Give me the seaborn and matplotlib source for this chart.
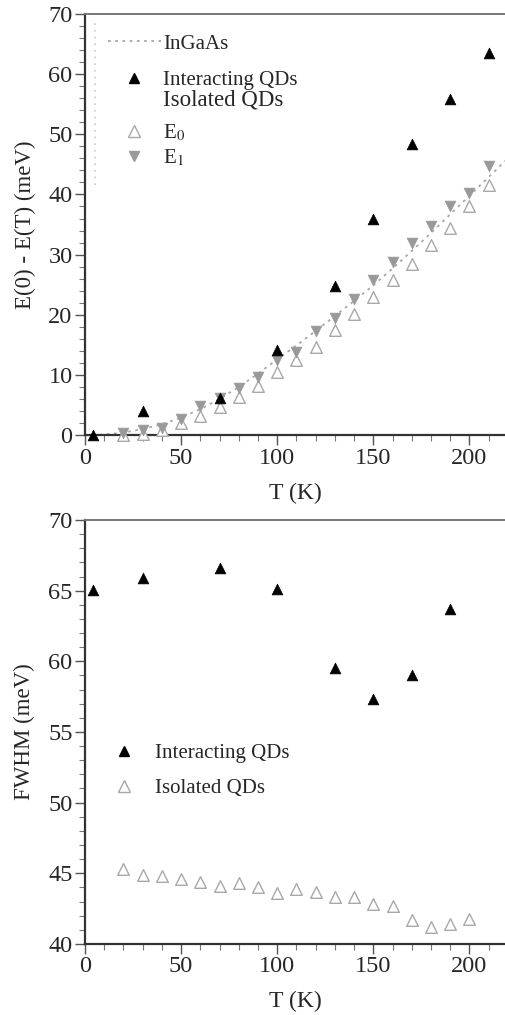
import matplotlib.pyplot as plt
import seaborn as sns
from matplotlib.lines import Line2D
from matplotlib.ticker import MultipleLocator

# top panel: E(0) - E(T)
t_inter = [4, 30, 70, 100, 130, 150, 170, 190, 210]
shift_inter = [0.0, 4.0, 6.2, 14.1, 24.8, 35.9, 48.4, 55.9, 63.6]

t_iso = [20, 30, 40, 50, 60, 70, 80, 90, 100, 110, 120, 130, 140, 150, 160, 170, 180, 190, 200, 210]
shift_e0 = [0.0, 0.2, 0.8, 2.0, 3.1, 4.6, 6.4, 8.2, 10.5, 12.4, 14.7, 17.5, 20.2, 23.0, 25.8, 28.5, 31.6, 34.5, 38.1, 41.6]
shift_e1 = [0.3, 0.8, 1.2, 2.65, 4.8, 6.2, 7.8, 9.7, 12.4, 13.8, 17.3, 19.5, 22.6, 25.8, 28.8, 32.0, 34.8, 38.1, 40.2, 44.8]

t_ingaas = [0, 10, 20, 30, 40, 50, 60, 70, 80, 90, 100, 110, 120, 130, 140, 150, 160, 170, 180, 190, 200, 210, 220]
shift_ingaas = [0.0, 0.1, 0.4, 1.0, 1.8, 2.9, 4.3, 6.0, 8.0, 10.2, 12.6, 14.9, 17.3, 19.8, 22.3, 24.9, 27.7, 30.6, 33.6, 36.7, 39.8, 42.9, 46.0]

# bottom panel: FWHM
t_fwhm_inter = [4, 30, 70, 100, 130, 150, 170, 190]
fwhm_inter = [65.05, 65.9, 66.6, 65.1, 59.5, 57.3, 59.0, 63.7]

t_fwhm_iso = [20, 30, 40, 50, 60, 70, 80, 90, 100, 110, 120, 130, 140, 150, 160, 170, 180, 190, 200]
fwhm_iso = [45.3, 44.9, 44.8, 44.6, 44.4, 44.1, 44.3, 44.0, 43.6, 43.9, 43.7, 43.3, 43.3, 42.8, 42.7, 41.7, 41.2, 41.4, 41.8]

sns.set_style("ticks")
plt.rcParams["font.family"] = ["Liberation Serif", "DejaVu Serif"]
plt.rcParams["mathtext.fontset"] = "stix"

fig = plt.figure(figsize=(5.06, 10.15), dpi=100)
ax1 = fig.add_axes([0.168, 0.5714, 0.832, 0.4148])
ax2 = fig.add_axes([0.168, 0.07, 0.832, 0.4177])

black = "#000000"
grey_fill = "#999999"
grey_edge = "#a8a8a8"

# InGaAs curve
sns.lineplot(x=t_ingaas, y=shift_ingaas, ax=ax1, color=grey_edge, linestyle=(0, (1.5, 2.5)),
             linewidth=1.3, zorder=1)
# faint vertical dotted trace near the left edge
ax1.plot([5, 5], [41.5, 68.8], color="#c8c8c8", linestyle=(0, (1, 3)), linewidth=1.2)

sns.scatterplot(x=t_iso, y=shift_e0, ax=ax1, marker="^", s=70, facecolor="white",
                edgecolor=grey_edge, linewidth=1.0, clip_on=False, zorder=3)
sns.scatterplot(x=t_iso, y=shift_e1, ax=ax1, marker="v", s=60, color=grey_fill,
                edgecolor=grey_fill, linewidth=0.5, clip_on=False, zorder=3)
sns.scatterplot(x=t_inter, y=shift_inter, ax=ax1, marker="^", s=60, color=black,
                edgecolor=black, linewidth=0.5, clip_on=False, zorder=4)

sns.scatterplot(x=t_fwhm_iso, y=fwhm_iso, ax=ax2, marker="^", s=70, facecolor="white",
                edgecolor=grey_edge, linewidth=1.0, clip_on=False, zorder=3)
sns.scatterplot(x=t_fwhm_inter, y=fwhm_inter, ax=ax2, marker="^", s=60, color=black,
                edgecolor=black, linewidth=0.5, clip_on=False, zorder=4)

for ax in (ax1, ax2):
    ax.set_xlim(0, 219)
    ax.xaxis.set_major_locator(MultipleLocator(50))
    ax.xaxis.set_minor_locator(MultipleLocator(10))
    ax.spines["right"].set_visible(False)
    for side in ("left", "bottom"):
        ax.spines[side].set_color("#333333")
        ax.spines[side].set_linewidth(1.6)
    ax.spines["top"].set_color("#777777")
    ax.spines["top"].set_linewidth(1.4)
    ax.tick_params(axis="both", which="major", labelsize=17.5, length=7, width=1.0,
                   color="#555555", direction="out", pad=2)
    ax.tick_params(axis="both", which="minor", length=4, width=0.8, color="#777777",
                   direction="out")
    ax.set_xlabel("T (K)", fontsize=17, labelpad=10)

ax1.set_ylim(0, 70)
ax1.yaxis.set_major_locator(MultipleLocator(10))
ax1.yaxis.set_minor_locator(MultipleLocator(2))
ax1.set_ylabel("E(0) - E(T) (meV)", fontsize=16.5, labelpad=9)

ax2.set_ylim(40, 70)
ax2.yaxis.set_major_locator(MultipleLocator(5))
ax2.yaxis.set_minor_locator(MultipleLocator(1))
ax2.set_ylabel("FWHM (meV)", fontsize=16.5, labelpad=9)

# legends (top panel split in blocks for the uneven spacing)
h_ingaas = Line2D([], [], color=grey_edge, linestyle=(0, (1.5, 2.5)), linewidth=1.3)
h_inter = Line2D([], [], marker="^", linestyle="none", color=black, markersize=7)
h_blank = Line2D([], [], linestyle="none", marker=None)
h_e0 = Line2D([], [], marker="^", linestyle="none", markerfacecolor="white",
              markeredgecolor=grey_edge, markersize=8)
h_e1 = Line2D([], [], marker="v", linestyle="none", color=grey_fill, markersize=7)

common = dict(loc="upper left", frameon=False, fontsize=15, handlelength=2.55,
              handletextpad=0.12, borderaxespad=0.3)
leg_a = ax1.legend([h_ingaas, h_inter], ["InGaAs", "Interacting QDs"],
                   bbox_to_anchor=(0.019, 0.987), labelspacing=0.8, **common)
ax1.add_artist(leg_a)
leg_b = ax1.legend([h_blank], ["Isolated QDs"], bbox_to_anchor=(0.019, 0.855), **common)
leg_b.get_texts()[0].set_fontsize(16.5)
ax1.add_artist(leg_b)
ax1.legend([h_e0, h_e1], ["E$_0$", "E$_1$"], bbox_to_anchor=(0.019, 0.776),
           labelspacing=0.2, **common)

h2_inter = Line2D([], [], marker="^", linestyle="none", color=black, markersize=7)
h2_iso = Line2D([], [], marker="^", linestyle="none", markerfacecolor="white",
                markeredgecolor=grey_edge, markersize=8)
ax2.legend([h2_inter, h2_iso], ["Interacting QDs", "Isolated QDs"],
           loc="upper left", bbox_to_anchor=(0.0, 0.517), frameon=False,
           fontsize=15, handlelength=1.9, handletextpad=0.55, labelspacing=0.75)

fig.savefig("out.png", dpi=100)
